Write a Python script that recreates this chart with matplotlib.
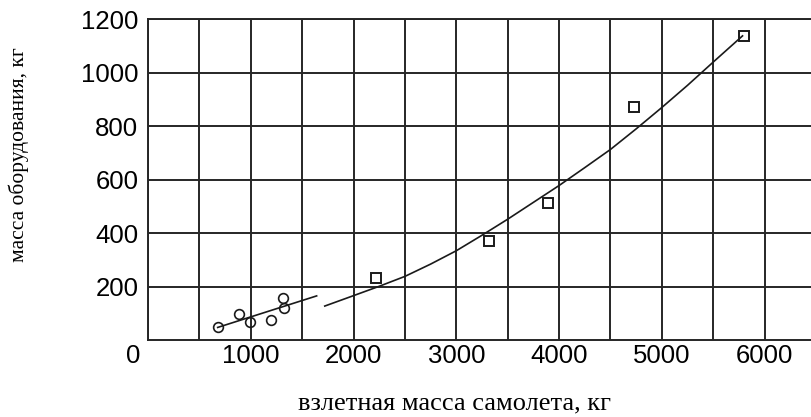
import matplotlib
matplotlib.use("Agg")
import matplotlib.pyplot as plt
from matplotlib.ticker import MultipleLocator

# Light aircraft (circles)
small_x = [678, 888, 992, 1196, 1316, 1320]
small_y = [47, 96, 66, 75, 156, 119]
# Trend line for light aircraft
small_fit_x = [678, 1641]
small_fit_y = [47, 165]

# Heavier aircraft (squares)
big_x = [2221, 3318, 3896, 4731, 5798]
big_y = [231, 372, 512, 871, 1136]
# Trend curve for heavier aircraft
big_fit_x = [1720, 2000, 2250, 2500, 2750, 3000, 3250, 3500, 3750, 4000,
             4250, 4500, 4750, 5000, 5250, 5500, 5785]
big_fit_y = [127, 166, 201, 238, 284, 334, 392, 452, 515, 578,
             645, 713, 790, 870, 953, 1040, 1138]

x_ticks = [1000, 2000, 3000, 4000, 5000, 6000]
y_ticks = [200, 400, 600, 800, 1000, 1200]

W, H = 811, 417
fig = plt.figure(figsize=(W / 100, H / 100), dpi=100)
ax = fig.add_axes([148 / W, 77 / H, 668 / W, 320.7 / H])

ax.set_xlim(0, 6500)
ax.set_ylim(0, 1200)

ax.plot(small_fit_x, small_fit_y, color="#1a1a1a", lw=1.2, zorder=3)
ax.plot(big_fit_x, big_fit_y, color="#1a1a1a", lw=1.2, zorder=3)
ax.plot(small_x, small_y, ls="none", marker="o", ms=7, mfc="none",
        mec="#1a1a1a", mew=1.2, zorder=4)
ax.plot(big_x, big_y, ls="none", marker="s", ms=7.5, mfc="none",
        mec="#1a1a1a", mew=1.4, zorder=4)

ax.set_xticks(x_ticks)
ax.set_yticks(y_ticks)
ax.xaxis.set_minor_locator(MultipleLocator(500))
ax.grid(True, which="both", color="#262626", lw=1.4, zorder=1)
ax.set_axisbelow(True)
tick_font = dict(family=["Liberation Sans", "DejaVu Sans"], size=18.5)
ax.set_xticklabels([str(v) for v in x_ticks], **tick_font)
ax.set_yticklabels([str(v) for v in y_ticks], **tick_font)
ax.tick_params(axis="both", which="both", length=0)
ax.tick_params(axis="x", pad=3)
ax.tick_params(axis="y", pad=7)
for s in ax.spines.values():
    s.set_color("#262626")
    s.set_linewidth(1.4)

ax.annotate("0", xy=(0, 0), xycoords="axes fraction", xytext=(-15, -16),
            textcoords="offset pixels", ha="center", va="center", **tick_font)

fig.text(455 / W, 1 - 403 / H, "взлетная масса самолета, кг",
         ha="center", va="center",
         family=["Liberation Serif", "DejaVu Serif"], size=19)
fig.text(19 / W, 1 - 155 / H, "масса оборудования, кг", rotation=90,
         ha="center", va="center",
         family=["Liberation Serif", "DejaVu Serif"], size=15.5)

fig.savefig("out.png", dpi=100)
